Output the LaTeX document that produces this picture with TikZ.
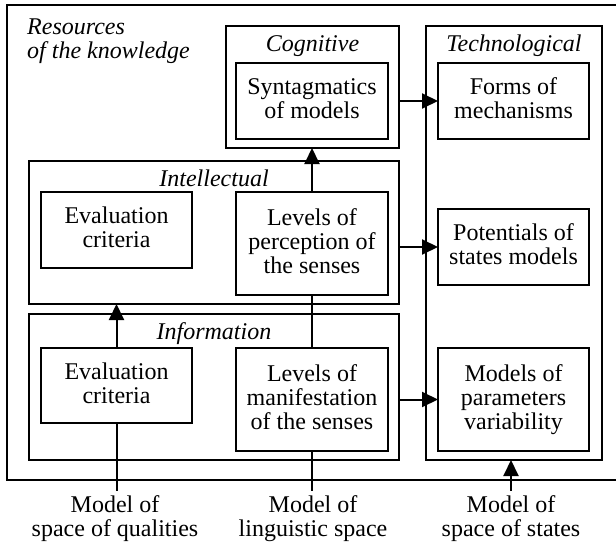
\documentclass[tikz,border=0pt]{standalone}
\usepackage{fontspec}
\setmainfont{Liberation Serif}
\usetikzlibrary{arrows.meta}
\newcommand\mybox[7]{\node[#1, minimum width={#5-#3}, minimum height={#6-#4}] (#2) at ({(#3+#5)/2},{-(#4+#6)/2}) {#7};}
\begin{document}
\begin{tikzpicture}[x=1pt,y=1pt,
  every node/.style={font=\rmfamily\fontsize{24}{24}\selectfont},
  box/.style={draw, line width=2.5pt, align=center, inner sep=0pt, outer sep=0pt, execute at end node={\vphantom{g}}},
  grp/.style={draw, line width=2.5pt, inner sep=0pt, outer sep=0pt},
  ttl/.style={font=\rmfamily\fontsize{24}{24}\selectfont\itshape, anchor=base, inner sep=0pt},
  lbl/.style={align=center, anchor=north, inner sep=4pt},
  conn/.style={line width=2pt},
  arr/.style={line width=2pt, -{Triangle[length=16pt,width=15pt]}}
]
\useasboundingbox (0,0) rectangle (616,-543);
% group boxes
\mybox{grp}{res}{7}{5}{640}{480}{}
\mybox{grp}{cog}{226}{26}{399}{148}{}
\mybox{grp}{tech}{426}{26}{602}{460}{}
\mybox{grp}{intel}{29}{161}{399}{304}{}
\mybox{grp}{info}{29}{314}{399}{460}{}
% titles
\node[font=\rmfamily\fontsize{24}{24}\selectfont\itshape, anchor=north west, align=left, inner sep=0pt] (tres) at (27,-19) {Resources\\of the knowledge};
\node[ttl] (tcog) at (312.5,-52) {Cognitive};
\node[ttl] (ttech) at (514,-52) {Technological};
\node[ttl] (tint) at (214,-186) {Intellectual};
\node[ttl] (tinf) at (214,-339) {Information};
% inner boxes
\mybox{box}{syn}{236}{63}{388}{139}{Syntagmatics\\of models}
\mybox{box}{forms}{438}{63}{589}{139}{Forms of\\mechanisms}
\mybox{box}{pot}{438}{209}{589}{285}{Potentials of\\states models}
\mybox{box}{mod}{438}{348}{589}{451}{Models of\\parameters\\variability}
\mybox{box}{evi}{41}{192}{192}{268}{Evaluation\\criteria}
\mybox{box}{lpe}{236}{192}{388}{295}{Levels of\\perception of\\the senses}
\mybox{box}{evf}{41}{348}{192}{423}{Evaluation\\criteria}
\mybox{box}{lma}{236}{348}{388}{451}{Levels of\\manifestation\\of the senses}
% bottom labels
\node[lbl] (q) at (115,-491) {Model of\\space of qualities};
\node[lbl] (l) at (313,-491) {Model of\\linguistic space};
\node[lbl] (s) at (511,-491) {Model of\\space of states};
% connectors
\draw[arr] (lpe.north) -- (lpe.north |- cog.south);
\draw[conn] (lma.north) -- (lpe.south);
\draw[arr] (evf.north) -- (evf.north |- intel.south);
\draw[conn] (evf.south) -- (evf.south |- q.north);
\draw[conn] (lma.south) -- (lma.south |- l.north);
\draw[arr] (s.north) -- (s.north |- tech.south);
\draw[arr] (forms.west -| cog.east) -- (forms.west);
\draw[arr] (pot.west -| intel.east) -- (pot.west);
\draw[arr] (mod.west -| info.east) -- (mod.west);
\end{tikzpicture}
\end{document}
